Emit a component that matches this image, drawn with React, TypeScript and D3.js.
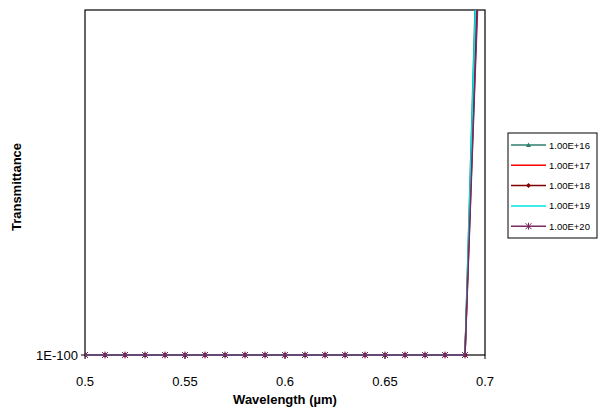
import React from "react";
import * as d3 from "d3";

const wavelengths = [0.5, 0.51, 0.52, 0.53, 0.54, 0.55, 0.56, 0.57, 0.58, 0.59, 0.6, 0.61, 0.62, 0.63, 0.64, 0.65, 0.66, 0.67, 0.68, 0.69, 0.7];
const seriesNames = ["1.00E+16", "1.00E+17", "1.00E+18", "1.00E+19", "1.00E+20"];
const seriesColors = ["#2E7F6E", "#FF0000", "#800000", "#00E5E5", "#7A2A62"];
const seriesMarkers = ["triangle", "none", "diamond", "none", "star"];
// log10 of transmittance; floor at -100 for all short wavelengths
const exp16 = [-100, -100, -100, -100, -100, -100, -100, -100, -100, -100, -100, -100, -100, -100, -100, -100, -100, -100, -100, -100, 100];
const exp17 = [-100, -100, -100, -100, -100, -100, -100, -100, -100, -100, -100, -100, -100, -100, -100, -100, -100, -100, -100, -100, 80];
const exp18 = [-100, -100, -100, -100, -100, -100, -100, -100, -100, -100, -100, -100, -100, -100, -100, -100, -100, -100, -100, -100, 65];
const exp19 = [-100, -100, -100, -100, -100, -100, -100, -100, -100, -100, -100, -100, -100, -100, -100, -100, -100, -100, -100, -100, 92];
const exp20 = [-100, -100, -100, -100, -100, -100, -100, -100, -100, -100, -100, -100, -100, -100, -100, -100, -100, -100, -100, -100, 60];
const xTicks = [0.5, 0.55, 0.6, 0.65, 0.7];
const yTicks = [1e-100];

const allExp = [exp16, exp17, exp18, exp19, exp20];

export default function App() {
  const left = 85, right = 485, top = 10, bottom = 355;
  const x = d3.scaleLinear().domain([0.5, 0.7]).range([left, right]);
  const y = d3.scaleLog().domain([1e-100, 1]).range([bottom, top]);
  const line = d3.line<[number, number]>().x(d => x(d[0])).y(d => y(d[1]));

  const marker = (type: string, cx: number, cy: number, color: string, key: string) => {
    if (type === "triangle") {
      return <path key={key} d={`M${cx},${cy - 2.5}L${cx + 2.5},${cy + 2}L${cx - 2.5},${cy + 2}Z`} fill={color} />;
    }
    if (type === "diamond") {
      return <path key={key} d={`M${cx},${cy - 2.5}L${cx + 2.5},${cy}L${cx},${cy + 2.5}L${cx - 2.5},${cy}Z`} fill={color} />;
    }
    if (type === "star") {
      return (
        <path key={key} d={`M${cx - 3},${cy - 3}L${cx + 3},${cy + 3}M${cx - 3},${cy + 3}L${cx + 3},${cy - 3}M${cx},${cy - 3.5}L${cx},${cy + 3.5}`} stroke={color} strokeWidth={1} fill="none" />
      );
    }
    return null;
  };

  return (
    <svg width={600} height={408} style={{ position: "absolute", left: 0, top: 0, fontFamily: "Liberation Sans, Arial, sans-serif" }}>
      <rect width={600} height={408} fill="#fff" />
      <defs>
        <clipPath id="plot">
          <rect x={left} y={top} width={right - left} height={bottom - top + 5} />
        </clipPath>
      </defs>
      {/* plot border */}
      <rect x={left} y={top} width={right - left} height={bottom - top} fill="none" stroke="#000" strokeWidth={1.2} />
      {/* x ticks */}
      {xTicks.map(t => (
        <g key={t}>
          <line x1={x(t)} x2={x(t)} y1={bottom} y2={bottom + 4} stroke="#000" />
          <text x={x(t)} y={386} fontSize={13} textAnchor="middle" fill="#000">{t}</text>
        </g>
      ))}
      {yTicks.map(t => (
        <g key={t}>
          <line x1={left - 4} x2={left} y1={y(t)} y2={y(t)} stroke="#000" />
          <text x={left - 7} y={y(t) + 4.5} fontSize={13} textAnchor="end" fill="#000">1E-100</text>
        </g>
      ))}
      <g clipPath="url(#plot)">
        {allExp.map((ex, i) => {
          const pts: [number, number][] = wavelengths.map((w, j) => [w, Math.pow(10, ex[j])]);
          return (
            <g key={i}>
              <path d={line(pts) || ""} fill="none" stroke={seriesColors[i]} strokeWidth={1.5} />
              {pts.map((p, j) => {
                const py = y(p[1]);
                if (py < top) return null;
                return marker(seriesMarkers[i], x(p[0]), py, seriesColors[i], `${i}-${j}`);
              })}
            </g>
          );
        })}
      </g>
      {/* axis titles */}
      <text x={285} y={404} fontSize={13} fontWeight="bold" textAnchor="middle" fill="#000">Wavelength (µm)</text>
      <text transform="translate(21,187) rotate(-90)" fontSize={13} fontWeight="bold" textAnchor="middle" fill="#000">Transmittance</text>
      {/* legend */}
      <rect x={508} y={133} width={89} height={105} fill="#fff" stroke="#000" strokeWidth={1} />
      {seriesNames.map((n, i) => {
        const ly = 145 + i * 20.3;
        return (
          <g key={n}>
            <line x1={511} x2={546} y1={ly} y2={ly} stroke={seriesColors[i]} strokeWidth={1.5} />
            {marker(seriesMarkers[i], 528.5, ly, seriesColors[i], `lg${i}`)}
            <text x={549} y={ly + 3.5} fontSize={9.5} fill="#000">{n}</text>
          </g>
        );
      })}
    </svg>
  );
}
